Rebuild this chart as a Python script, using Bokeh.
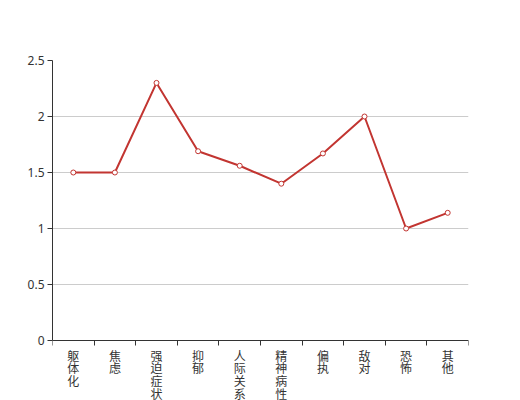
from bokeh.plotting import figure
from bokeh.models import Range1d, FixedTicker, ColumnDataSource, LinearAxis
from bokeh.embed import file_html
from bokeh.resources import INLINE

categories = ["躯体化", "焦虑", "强迫症状", "抑郁", "人际关系敏感", "精神病性", "偏执", "敌对", "恐怖", "其他"]
values = [1.5, 1.5, 2.3, 1.69, 1.56, 1.4, 1.67, 2.0, 1.0, 1.14]
y_ticks = [0, 0.5, 1, 1.5, 2, 2.5]
y_tick_labels = ["0", "0.5", "1", "1.5", "2", "2.5"]

n = len(categories)
xs = [i + 0.5 for i in range(n)]

W, H = 520, 400
top, left, right, axis_px = 60, 52, 52, 340   # frame layout in pixels
y_max = 2.5
px_per_unit = (axis_px - top) / y_max
y_min = -(H - axis_px) / px_per_unit

p = figure(width=W, height=H, output_backend="svg", toolbar_location=None,
           x_range=Range1d(0, n), y_range=Range1d(y_min, y_max),
           x_axis_location=None,
           min_border_left=left, min_border_right=right, min_border_top=top, min_border_bottom=0)
p.outline_line_color = None
p.xgrid.visible = False
p.ygrid.grid_line_color = "#cccccc"
p.ygrid.ticker = FixedTicker(ticks=y_ticks)

# category axis, drawn at y = 0 inside the frame
xaxis = LinearAxis(fixed_location=0,
                   ticker=FixedTicker(ticks=xs, minor_ticks=list(range(n + 1))),
                   major_label_overrides={x: "\n".join(c) for x, c in zip(xs, categories)},
                   major_tick_out=0, major_tick_in=0,
                   minor_tick_out=5, minor_tick_in=0,
                   minor_tick_line_color="#333333",
                   axis_line_color="#333333",
                   major_label_standoff=1,
                   major_label_text_font="Noto Sans CJK SC",
                   major_label_text_font_size="12px",
                   major_label_text_color="#333333",
                   major_label_text_line_height=0.75,
                   major_label_text_align="center",
                   major_label_text_baseline="top")
p.add_layout(xaxis, "below")

p.yaxis.ticker = FixedTicker(ticks=y_ticks)
p.yaxis.bounds = (0, y_max)
p.yaxis.major_label_overrides = {t: l for t, l in zip(y_ticks, y_tick_labels)}
p.yaxis.major_tick_out = 5
p.yaxis.major_tick_in = 0
p.yaxis.minor_tick_line_color = None
p.yaxis.major_label_standoff = 3
p.yaxis.axis_line_color = "#333333"
p.yaxis.major_tick_line_color = "#333333"
p.yaxis.major_label_text_color = "#333333"
p.yaxis.major_label_text_font = "Noto Sans"
p.yaxis.major_label_text_font_size = "12px"

src = ColumnDataSource(dict(x=xs, y=values))
p.line("x", "y", source=src, line_color="#c23531", line_width=2)
p.scatter("x", "y", source=src, size=5, fill_color="white", line_color="#c23531", line_width=1)

open("out.html", "w").write(file_html(p, INLINE))
